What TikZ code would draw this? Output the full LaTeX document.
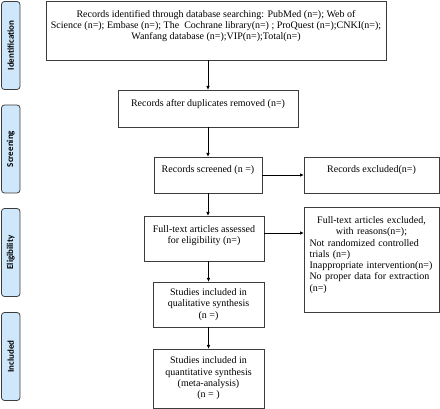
\documentclass[tikz,border=0pt]{standalone}
\usepackage{fontspec}
\setmainfont{Liberation Serif}
\newfontfamily\labfont{Carlito}
\usetikzlibrary{arrows.meta,calc}
\definecolor{phasefill}{RGB}{207,231,250}
\definecolor{boxline}{RGB}{60,60,60}
\begin{document}
\begin{tikzpicture}[x=1pt,y=-1pt,
  box/.style={draw=boxline,line width=0.8pt,rectangle,anchor=north west,align=center,
    inner sep=0pt,outer sep=0pt,font=\fontsize{10}{11.3}\selectfont},
  phase/.style={draw=boxline,fill=phasefill,line width=0.8pt,rounded corners=3pt,
    rotate=90,minimum width=88pt,minimum height=18.5pt,inner sep=0pt,
    font=\labfont\bfseries\fontsize{9}{11}\selectfont},
  arr/.style={line width=0.8pt,-{Latex[length=4pt,width=3.5pt]}}]
\useasboundingbox (0,0) rectangle (440,409);
% phase labels
\node[phase] (p1) at (10.75,45.5) {Identification};
\node[phase] (p2) at (10.75,149) {Screening};
\node[phase] (p3) at (10.75,252.5) {Eligibility};
\node[phase] (p4) at (10.75,356.5) {Included};
% boxes
\node[box,minimum width=340pt,minimum height=59pt] (b1) at (46,1)
  {Records identified through database searching: PubMed (n=); Web of\\
   Science (n=); Embase (n=); The\ \ Cochrane library(n=) ; ProQuest (n=);CNKI(n=);\\
   Wanfang database (n=);VIP(n=);Total(n=)\\ \mbox{}};
\node[box,minimum width=180pt,minimum height=37pt] (b2) at (118,90)
  {Records after duplicates removed (n=)\\ \mbox{}};
\node[box,minimum width=108pt,minimum height=36pt] (b3) at (154,157)
  {Records screened (n =)\\ \mbox{}};
\node[box,minimum width=135pt,minimum height=36pt] (ex1) at (304,157)
  {Records excluded(n=)\\ \mbox{}};
\node[box,minimum width=120pt,minimum height=45pt] (b4) at (144,216)
  {Full-text articles assessed\\ for eligibility (n=)\\[-3pt] \mbox{}};
\node[box,minimum width=135pt,minimum height=105pt,align=left,text width=124pt] (ex2) at (304,207)
  {{\centering Full-text articles excluded,\\ with reasons(n=);\par}
   \raggedright Not randomized controlled\\ trials (n=)\\ Inappropriate intervention(n=)\\
   No proper data for extraction\\ (n=)\\ \mbox{}};
\node[box,minimum width=111pt,minimum height=45pt] (b6) at (153,282)
  {Studies included in\\ qualitative synthesis\\ (n =)};
\node[box,minimum width=111pt,minimum height=59pt] (b7) at (153,349)
  {Studies included in\\ quantitative synthesis\\ (meta-analysis)\\ (n = )};
% arrows
\draw[arr] (b1.south -| b2.north) -- (b2.north);
\draw[arr] (b2.south) -- (b3.north);
\draw[arr] (b3.east) -- (ex1.west);
\draw[arr] (b3.south) -- (b3.south |- b4.north);
\draw[arr] ([yshift=5.5pt]b4.east) -- ([yshift=5.5pt]b4.east -| ex2.west);
\draw[arr] (b4.south -| b6.north) -- (b6.north);
\draw[arr] (b6.south) -- (b7.north);
\end{tikzpicture}
\end{document}
